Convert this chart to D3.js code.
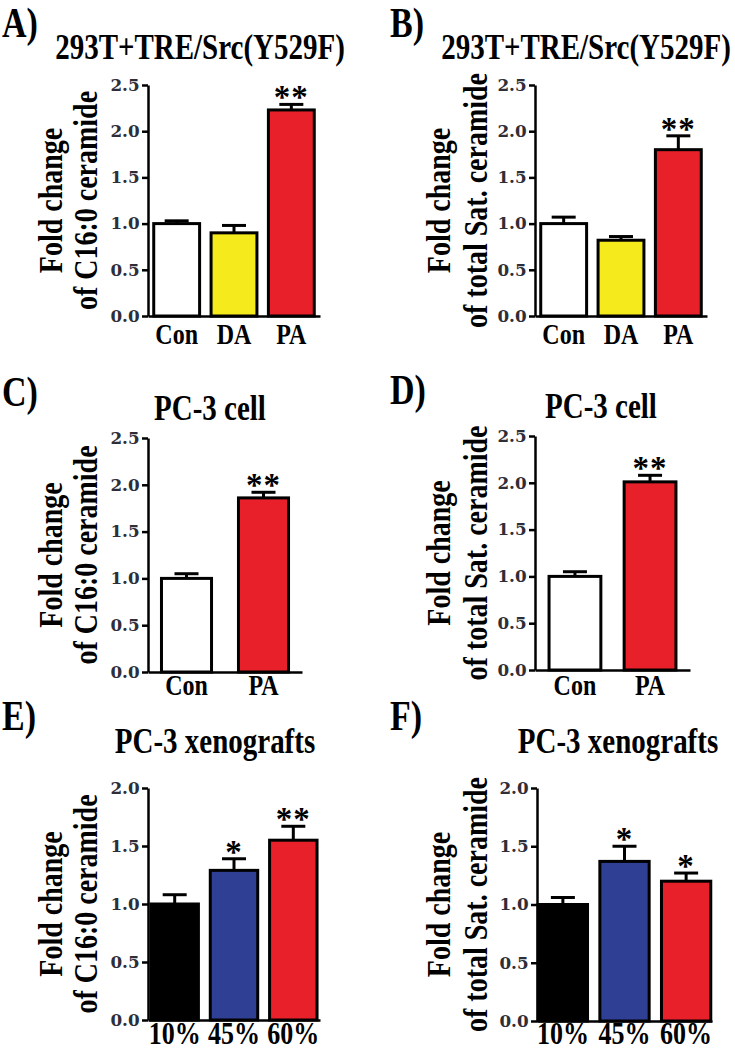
<!DOCTYPE html>
<html>
<head>
<meta charset="utf-8">
<script src="https://cdn.jsdelivr.net/npm/d3@7"></script>
<style>
  body { margin: 0; background: #fff; }
  svg { display: block; }
  text { font-family: "Liberation Serif", "Times New Roman", serif; font-weight: bold; }
  .tick text { font-family: "DejaVu Serif", serif; font-size: 16px; fill: #2e2e38; }
</style>
</head>
<body>
<div id="chart"></div>
<script>
// categories
var catsTreat = ["Con", "DA", "PA"];
var catsCell = ["Con", "PA"];
var catsDiet = ["10%", "45%", "60%"];

// means, upper error (SEM) and significance marks for each panel
var meanA = [1.00, 0.90, 2.23], errA = [0.03, 0.08, 0.06], starsA = ["", "", "**"];
var meanB = [1.00, 0.82, 1.80], errB = [0.07, 0.04, 0.15], starsB = ["", "", "**"];
var meanC = [1.00, 1.86], errC = [0.05, 0.06], starsC = ["", "**"];
var meanD = [1.00, 2.01], errD = [0.05, 0.07], starsD = ["", "**"];
var meanE = [1.00, 1.29, 1.55], errE = [0.08, 0.10, 0.12], starsE = ["", "*", "**"];
var meanF = [1.00, 1.37, 1.20], errF = [0.06, 0.13, 0.07], starsF = ["", "*", "*"];

// tick labels
var ticks25 = [0, 0.5, 1.0, 1.5, 2.0, 2.5];
var ticks20 = [0, 0.5, 1.0, 1.5, 2.0];

// bar colours
var colTreat = ["#ffffff", "#f4ea1c", "#e8202a"];
var colCell = ["#ffffff", "#e8202a"];
var colDiet = ["#000000", "#2e3f94", "#e8202a"];

var titleHek = "293T+TRE/Src(Y529F)";
var titleCell = "PC-3 cell";
var titleXeno = "PC-3 xenografts";
var labC16 = ["Fold change", "of C16:0 ceramide"];
var labSat = ["Fold change", "of total Sat. ceramide"];

var width = 735, height = 1050;
var stretch = 1.22;  // the original lettering is taller than plain Times

var svg = d3.select("#chart")
    .append("svg")
    .attr("width", width)
    .attr("height", height);

// one entry per panel: where it sits on the page
var panels = [
    { letter: "A)", lx: 2, ly: 37, title: titleHek, tx: 200, ty: 59, ylab: labC16, yl1: 62, yl2: 97,
      cats: catsTreat, mean: meanA, err: errA, stars: starsA, cols: colTreat, ticks: ticks25, max: 2.5,
      x0: 148, x1: 320, yb: 316, yt: 85, xlab: 344, pin: 0.2, pout: 0.1 },
    { letter: "B)", lx: 390, ly: 37, title: titleHek, tx: 586, ty: 59, ylab: labSat, yl1: 450, yl2: 487,
      cats: catsTreat, mean: meanB, err: errB, stars: starsB, cols: colTreat, ticks: ticks25, max: 2.5,
      x0: 535, x1: 707, yb: 316, yt: 85, xlab: 344, pin: 0.2, pout: 0.1 },
    { letter: "C)", lx: 2, ly: 406, title: titleCell, tx: 210, ty: 420, ylab: labC16, yl1: 62, yl2: 97,
      cats: catsCell, mean: meanC, err: errC, stars: starsC, cols: colCell, ticks: ticks25, max: 2.5,
      x0: 148, x1: 302, yb: 672, yt: 438, xlab: 695, pin: 0.35, pout: 0.175 },
    { letter: "D)", lx: 390, ly: 404, title: titleCell, tx: 601, ty: 418, ylab: labSat, yl1: 450, yl2: 487,
      cats: catsCell, mean: meanD, err: errD, stars: starsD, cols: colCell, ticks: ticks25, max: 2.5,
      x0: 535, x1: 690, yb: 670, yt: 436, xlab: 695, pin: 0.31, pout: 0.187 },
    { letter: "E)", lx: 2, ly: 730, title: titleXeno, tx: 215, ty: 753, ylab: labC16, yl1: 62, yl2: 97,
      cats: catsDiet, mean: meanE, err: errE, stars: starsE, cols: colDiet, ticks: ticks20, max: 2.0,
      x0: 148, x1: 320, yb: 1020, yt: 788, xlab: 1044, pin: 0.2, pout: 0.05 },
    { letter: "F)", lx: 390, ly: 730, title: titleXeno, tx: 618, ty: 753, ylab: labSat, yl1: 450, yl2: 487,
      cats: catsDiet, mean: meanF, err: errF, stars: starsF, cols: colDiet, ticks: ticks20, max: 2.0,
      x0: 537, x1: 712, yb: 1021, yt: 788, xlab: 1044, pin: 0.2, pout: 0.02 }
];

function tallText(g, x, y, size, str, anchor, rot) {
    return g.append("text")
        .attr("transform", "translate(" + x + "," + y + ")" + (rot ? " rotate(-90)" : "") +
            " scale(1," + stretch + ")")
        .attr("text-anchor", anchor)
        .attr("font-size", size)
        .text(str);
}

panels.forEach(function (p) {
    var g = svg.append("g");

    var x = d3.scaleBand()
        .domain(p.cats)
        .range([p.x0, p.x1])
        .paddingInner(p.pin)
        .paddingOuter(p.pout);

    var y = d3.scaleLinear()
        .domain([0, p.max])
        .range([p.yb, p.yt]);

    var rows = p.cats.map(function (c, i) {
        return { cat: c, mean: p.mean[i], err: p.err[i], star: p.stars[i], color: p.cols[i] };
    });

    // panel letter and title
    tallText(g, p.lx, p.ly, "34px", p.letter, "start", false);
    tallText(g, p.tx, p.ty, "29px", p.title, "middle", false);

    // y axis title, two rotated lines
    var mid = (p.yb + p.yt) / 2;
    tallText(g, p.yl1, mid, "28px", p.ylab[0], "middle", true);
    tallText(g, p.yl2, mid, "28px", p.ylab[1], "middle", true);

    // error bars (upper half only shows)
    var eb = g.selectAll(".err")
        .data(rows)
        .enter()
        .append("g")
        .attr("class", "err");

    eb.append("line")
        .attr("x1", function (d) { return x(d.cat) + x.bandwidth() / 2; })
        .attr("x2", function (d) { return x(d.cat) + x.bandwidth() / 2; })
        .attr("y1", function (d) { return y(d.mean); })
        .attr("y2", function (d) { return y(d.mean + d.err); })
        .attr("stroke", "#000")
        .attr("stroke-width", 3);

    eb.append("line")
        .attr("x1", function (d) { return x(d.cat) + x.bandwidth() / 2 - 12; })
        .attr("x2", function (d) { return x(d.cat) + x.bandwidth() / 2 + 12; })
        .attr("y1", function (d) { return y(d.mean + d.err); })
        .attr("y2", function (d) { return y(d.mean + d.err); })
        .attr("stroke", "#000")
        .attr("stroke-width", 3);

    // bars
    g.selectAll(".bar")
        .data(rows)
        .enter()
        .append("rect")
        .attr("class", "bar")
        .attr("x", function (d) { return x(d.cat); })
        .attr("y", function (d) { return y(d.mean); })
        .attr("width", x.bandwidth())
        .attr("height", function (d) { return y(0) - y(d.mean); })
        .attr("fill", function (d) { return d.color; })
        .attr("stroke", "#000")
        .attr("stroke-width", 3);

    // significance stars
    g.selectAll(".star")
        .data(rows)
        .enter()
        .append("text")
        .attr("class", "star")
        .attr("x", function (d) { return x(d.cat) + x.bandwidth() / 2; })
        .attr("y", function (d) { return y(d.mean + d.err) + 4; })
        .attr("text-anchor", "middle")
        .attr("font-size", "33px")
        .attr("font-weight", "normal")
        .attr("letter-spacing", "1px")
        .text(function (d) { return d.star; });

    // axes
    var yAxis = g.append("g")
        .attr("transform", "translate(" + p.x0 + ",0)")
        .call(d3.axisLeft(y).tickValues(p.ticks).tickFormat(d3.format(".1f"))
            .tickSize(6).tickSizeOuter(0).tickPadding(2));
    yAxis.selectAll("path, line").attr("stroke", "#000").attr("stroke-width", 2.5);
    yAxis.selectAll("text").attr("transform", "scale(1.05,1.05)");

    var xAxis = g.append("g")
        .attr("transform", "translate(0," + p.yb + ")")
        .call(d3.axisBottom(x).tickSize(0).tickSizeOuter(0));
    xAxis.select("path").attr("stroke", "#000").attr("stroke-width", 2.5);
    xAxis.selectAll("text")
        .attr("y", 0)
        .attr("dy", null)
        .attr("transform", "translate(0," + (p.xlab - p.yb) + ") scale(1," + stretch + ")")
        .style("font-family", "'Liberation Serif', serif")
        .style("font-size", p.cats === catsDiet ? "26px" : "24px")
        .style("fill", "#000");
});
</script>
</body>
</html>
